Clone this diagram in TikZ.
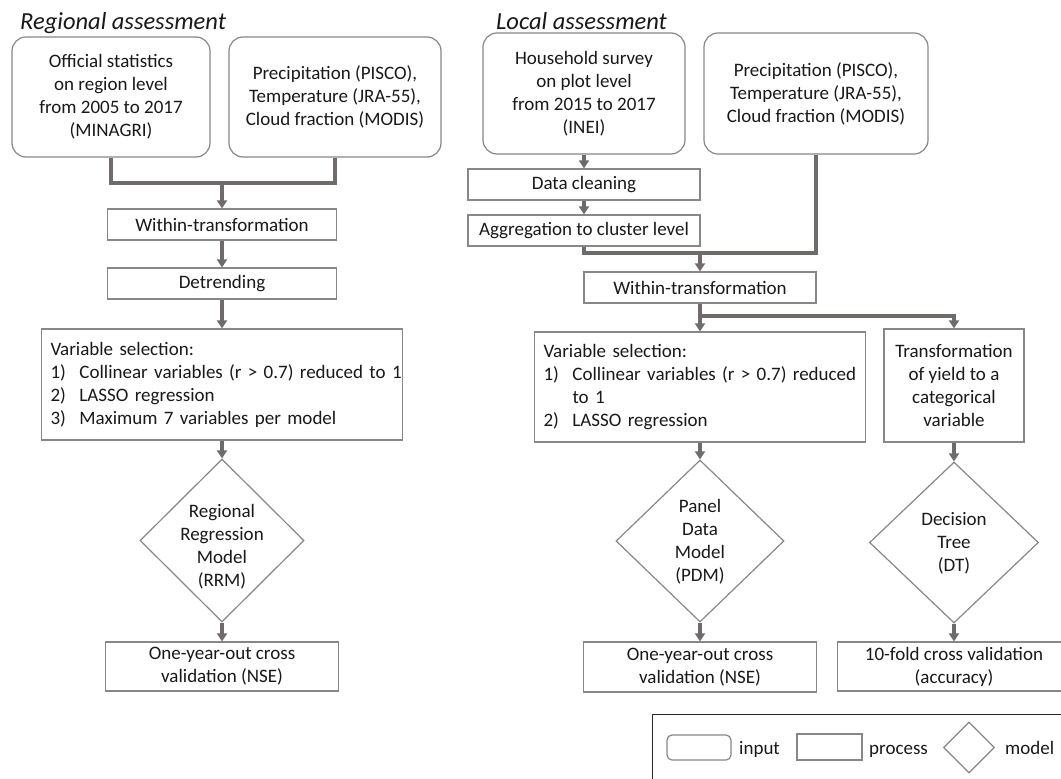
\documentclass[tikz,border=0pt]{standalone}
\usepackage{fontspec}
\setmainfont{Carlito}
\usetikzlibrary{shapes.geometric,arrows.meta}
\definecolor{bordc}{RGB}{135,135,135}
\definecolor{connc}{RGB}{112,107,107}
\definecolor{txtc}{RGB}{25,25,25}
\definecolor{legc}{RGB}{40,40,40}
\tikzset{
  basefont/.style={font=\fontsize{19}{23}\selectfont, text=txtc},
  titlef/.style={font=\fontsize{24.5}{28}\selectfont\itshape, text=txtc, inner sep=0pt},
  inbox/.style={basefont, draw=bordc, line width=1.2pt, rounded corners=14pt, align=center, inner sep=0pt},
  procbox/.style={basefont, draw=bordc, line width=1.2pt, align=center, inner sep=0pt},
  listbox/.style={basefont, draw=bordc, line width=1.2pt, align=left, inner xsep=9pt, inner ysep=0pt},
  modeldiam/.style={draw=bordc, line width=1.2pt, diamond, inner sep=0pt},
  dtext/.style={basefont, align=center, inner sep=0pt},
  ltext/.style={basefont, anchor=base west, inner sep=0pt},
  conn/.style={draw=connc, line width=3.4pt},
  arr/.style={conn, -{Triangle[length=8pt,width=10pt]}},
}
\newcommand{\itm}[1]{\makebox[29pt][l]{#1}}
\begin{document}
\begin{tikzpicture}[x=1pt,y=-1pt]
\clip (0,0) rectangle (1061,779);
\fill[white] (0,0) rectangle (1061,779);

% titles
\node[titlef, anchor=base west] (t1) at (20,30) {Regional assessment};
\node[titlef, anchor=base west] (t2) at (496,29) {Local assessment};

% ---------- regional assessment ----------
\node[inbox, minimum width=198pt, minimum height=120pt] (in1) at (111,97)
  {Official statistics\\on region level\\from 2005 to 2017\\(MINAGRI)};
\node[inbox, minimum width=212pt, minimum height=120pt] (in2) at (335,97)
  {Precipitation (PISCO),\\Temperature (JRA-55),\\Cloud fraction (MODIS)};
\node[procbox, minimum width=229pt, minimum height=31pt] (wt1) at (222,224.5) {Within-transformation};
\node[procbox, minimum width=229pt, minimum height=31pt] (det) at (222,283.5) {Detrending};
\node[listbox, text width=343pt, minimum height=111pt] (vs1) at (222,384.5)
  {\mbox{Variable selection:}\\
   \mbox{\itm{1)}Collinear variables (r > 0.7) reduced to 1}\\
   \mbox{\itm{2)}LASSO regression}\\
   \mbox{\itm{3)}Maximum 7 variables per model}};
\node[modeldiam, minimum width=164pt, minimum height=163pt] (rrm) at (222,540.5) {};
\node[dtext] (rrmt) at (222,547) {Regional\\Regression\\Model\\(RRM)};
\node[procbox, minimum width=233pt, minimum height=49pt] (val1) at (222,666.5)
  {One-year-out cross\\validation (NSE)};

\coordinate (j1) at (222,183);
\draw[conn] (in1.south) |- (j1) -| (in2.south);
\draw[arr] (j1) -- (wt1.north);
\draw[arr] (wt1.south) -- (det.north);
\draw[arr] (det.south) -- (vs1.north);
\draw[arr] (vs1.south) -- (rrm.north);
\draw[arr] (rrm.south) -- (val1.north);

% ---------- local assessment ----------
\node[inbox, minimum width=202pt, minimum height=121pt] (hh) at (584,93.5)
  {Household survey\\on plot level\\from 2015 to 2017\\(INEI)};
\node[inbox, minimum width=224pt, minimum height=121pt] (in4) at (816,93.5)
  {Precipitation (PISCO),\\Temperature (JRA-55),\\Cloud fraction (MODIS)};
\node[procbox, minimum width=232pt, minimum height=31pt] (dc) at (584,184.5) {Data cleaning};
\node[procbox, minimum width=232pt, minimum height=31pt] (agg) at (584,230.5) {Aggregation to cluster level};
\node[procbox, minimum width=232pt, minimum height=31pt] (wt2) at (700,287.5) {Within-transformation};
\node[listbox, text width=313pt, minimum height=110pt] (vs2) at (700,387)
  {\mbox{Variable selection:}\\
   \mbox{\itm{1)}Collinear variables (r > 0.7) reduced}\\
   \mbox{\hspace*{29pt}to 1}\\
   \mbox{\itm{2)}LASSO regression}};
\node[procbox, minimum width=140pt, minimum height=113pt] (tr) at (954,385.5)
  {Transformation\\of yield to a\\categorical\\variable};
\node[modeldiam, minimum width=168pt, minimum height=162pt] (pdm) at (700,541) {};
\node[dtext] (pdmt) at (700,542) {Panel\\Data\\Model\\(PDM)};
\node[modeldiam, minimum width=169pt, minimum height=161pt] (dt) at (954,542.5) {};
\node[dtext] (dtt) at (954,543) {Decision\\Tree\\(DT)};
\node[procbox, minimum width=233pt, minimum height=50pt] (val2) at (700,667)
  {One-year-out cross\\validation (NSE)};
\node[procbox, minimum width=233pt, minimum height=49pt] (val3) at (954,666.5)
  {10-fold cross validation\\(accuracy)};

\draw[arr] (hh.south) -- (dc.north);
\draw[arr] (dc.south) -- (agg.north);
\coordinate (j2) at (700,253);
\draw[conn] (agg.south) |- (j2) -| (in4.south);
\draw[arr] (j2) -- (wt2.north);
\coordinate (j3) at (700,316);
\draw[arr] (wt2.south) -- (vs2.north);
\draw[arr] (j3) -| (tr.north);
\draw[arr] (vs2.south) -- (pdm.north);
\draw[arr] (tr.south) -- (dt.north);
\draw[arr] (pdm.south) -- (val2.north);
\draw[arr] (dt.south) -- (val3.north);

% ---------- legend ----------
\node[draw=legc, line width=1.4pt, minimum width=440pt, minimum height=100pt, anchor=north west, inner sep=0pt] (leg) at (652,714) {};
\node[draw=bordc, line width=1.2pt, rounded corners=5pt, minimum width=64pt, minimum height=25pt, inner sep=0pt] (li) at (699,747.5) {};
\node[ltext] (lit) at (739,754) {input};
\node[draw=bordc, line width=1.2pt, minimum width=65pt, minimum height=26pt, inner sep=0pt] (lp) at (829.5,747) {};
\node[ltext] (lpt) at (869,754) {process};
\node[modeldiam, minimum width=51pt, minimum height=51pt] (lm) at (969,747.5) {};
\node[ltext] (lmt) at (1005,754) {model};
\end{tikzpicture}
\end{document}
